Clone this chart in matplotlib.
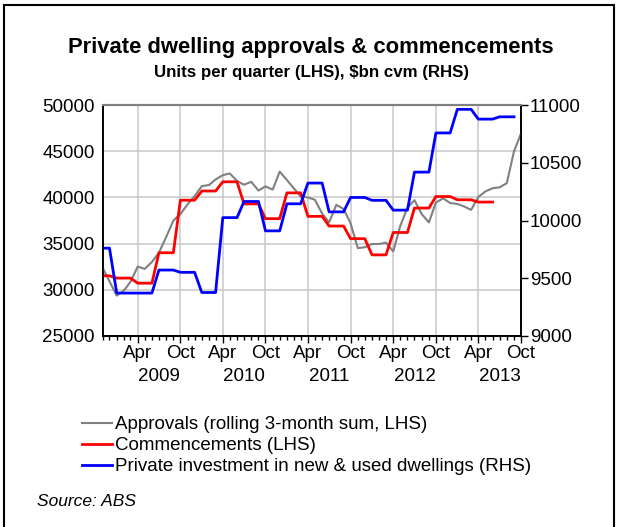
import matplotlib
matplotlib.use("Agg")
import matplotlib.pyplot as plt
import matplotlib.dates as mdates
import matplotlib.patches as mpatches
import matplotlib.transforms as mtransforms
import pandas as pd

plt.rcParams["font.family"] = ["Liberation Sans", "DejaVu Sans"]

# monthly axis, Nov 2008 .. Oct 2013
months = pd.date_range("2008-11-01", "2013-10-01", freq="MS")

# rolling 3-month sum of approvals (LHS), one value per month
approvals = [32400, 30900, 29350, 29900, 30850, 32500, 32250, 33000, 34000, 35700,
             37500, 38200, 39250, 40150, 41230, 41350, 41950, 42420, 42600, 41800,
             41380, 41700, 40750, 41200, 40850, 42800, 41900, 40950, 40100, 40000,
             39750, 38250, 37300, 39200, 38750, 37200, 34500, 34600, 34950, 34950,
             35100, 34150, 36900, 38900, 39700, 38200, 37300, 39450, 39900, 39400,
             39300, 39000, 38650, 40050, 40650, 41000, 41100, 41550, 45000, 46950]

# quarterly commencements shown on the monthly axis (LHS), Nov 2008 .. Jun 2013
commencements = [31500, 31500,
                 31250, 31250, 31250, 30700, 30700, 30700, 34000, 34000, 34000,
                 39700, 39700, 39700, 40700, 40700, 40700, 41700, 41700, 41700,
                 39300, 39300, 39300, 37700, 37700, 37700, 40500, 40500, 40500,
                 37950, 37950, 37950, 36900, 36900, 36900, 35530, 35530, 35530,
                 33770, 33770, 33770, 36200, 36200, 36200, 38850, 38850, 38850,
                 40100, 40100, 40100, 39750, 39750, 39750, 39500, 39500, 39500]

# private investment in dwellings, $bn cvm (RHS), Nov 2008 .. Sep 2013
investment = [9760, 9760,
              9370, 9370, 9370, 9370, 9370, 9370, 9570, 9570, 9570,
              9550, 9550, 9550, 9375, 9375, 9375, 10025, 10025, 10025,
              10165, 10165, 10165, 9910, 9910, 9910, 10145, 10145, 10145,
              10325, 10325, 10325, 10075, 10075, 10075, 10200, 10200, 10200,
              10175, 10175, 10175, 10090, 10090, 10090, 10420, 10420, 10420,
              10760, 10760, 10760, 10965, 10965, 10965, 10880, 10880, 10880,
              10900, 10900, 10900]

years = [2009, 2010, 2011, 2012, 2013]
left_ticks = [25000, 30000, 35000, 40000, 45000, 50000]
right_ticks = [9000, 9500, 10000, 10500, 11000]

labels = ["Approvals (rolling 3-month sum, LHS)",
          "Commencements (LHS)",
          "Private investment in new & used dwellings (RHS)"]

W, H = 618, 527
fig = plt.figure(figsize=(W / 100, H / 100), dpi=100)
ax = fig.add_axes([102.5 / W, 1 - 335.7 / H, (521 - 102.5) / W, (335.7 - 105.3) / H])
ax2 = ax.twinx()

l1, = ax.plot(months, approvals, color="#808080", lw=1.5, zorder=3)
l2, = ax.plot(months[:len(commencements)], commencements, color="#ff0000", lw=2.0, zorder=4)
l3, = ax2.plot(months[:len(investment)], investment, color="#0000ff", lw=2.0)

ax.set_xlim(months[0], months[-1])
ax.set_ylim(25000, 50000)
ax.set_yticks(left_ticks)
ax2.set_ylim(9000, 11000)
ax2.set_yticks(right_ticks)

ax.xaxis.set_major_locator(mdates.MonthLocator(bymonth=[4, 10]))
ax.xaxis.set_major_formatter(mdates.DateFormatter("%b"))
ax.xaxis.set_minor_locator(mdates.MonthLocator())
ax.tick_params(axis="x", which="major", length=5, width=1, pad=2, labelsize=13.5, direction="out")
ax.tick_params(axis="x", which="minor", length=3, width=1, direction="out")
ax.tick_params(axis="y", length=0, pad=5.5, labelsize=13.5)
ax2.tick_params(axis="y", length=5, width=1, pad=1.5, labelsize=13.5, direction="out")

ax.grid(True, which="major", color="#c8c8c8", lw=1.1)
ax.set_axisbelow(True)

for a in (ax, ax2):
    for side in ("left", "right", "bottom"):
        a.spines[side].set_color("black")
        a.spines[side].set_linewidth(1.2)
    a.spines["top"].set_color("#808080")
    a.spines["top"].set_linewidth(1.5)

# year labels centred under each year's Apr-Oct span
trans = mtransforms.blended_transform_factory(ax.transData, ax.transAxes)
for yr in years:
    ax.text(pd.Timestamp(yr, 7, 1), -0.178, str(yr), transform=trans,
            ha="center", va="center", fontsize=13.5)

fig.text(311 / W, 1 - 47 / H, "Private dwelling approvals & commencements",
         ha="center", va="center", fontsize=15.8, fontweight="bold")
fig.text(311 / W, 1 - 72 / H, "Units per quarter (LHS), $bn cvm (RHS)",
         ha="center", va="center", fontsize=12.2, fontweight="bold")

fig.legend([l1, l2, l3], labels, loc="upper left",
           bbox_to_anchor=(82 / W, 1 - 416 / H), frameon=False, fontsize=13.5,
           borderpad=0, borderaxespad=0, handlelength=1.6, handletextpad=0.15,
           labelspacing=0.21)

fig.text(37 / W, 1 - 502 / H, "Source: ABS", style="italic", fontsize=12.5, va="center")

fig.patches.append(mpatches.Rectangle((4 / W, -0.02), (614 - 4) / W, 1 - 5 / H + 0.02,
                                      transform=fig.transFigure, fill=False,
                                      edgecolor="black", lw=1.5))

fig.savefig("out.png", dpi=100)
